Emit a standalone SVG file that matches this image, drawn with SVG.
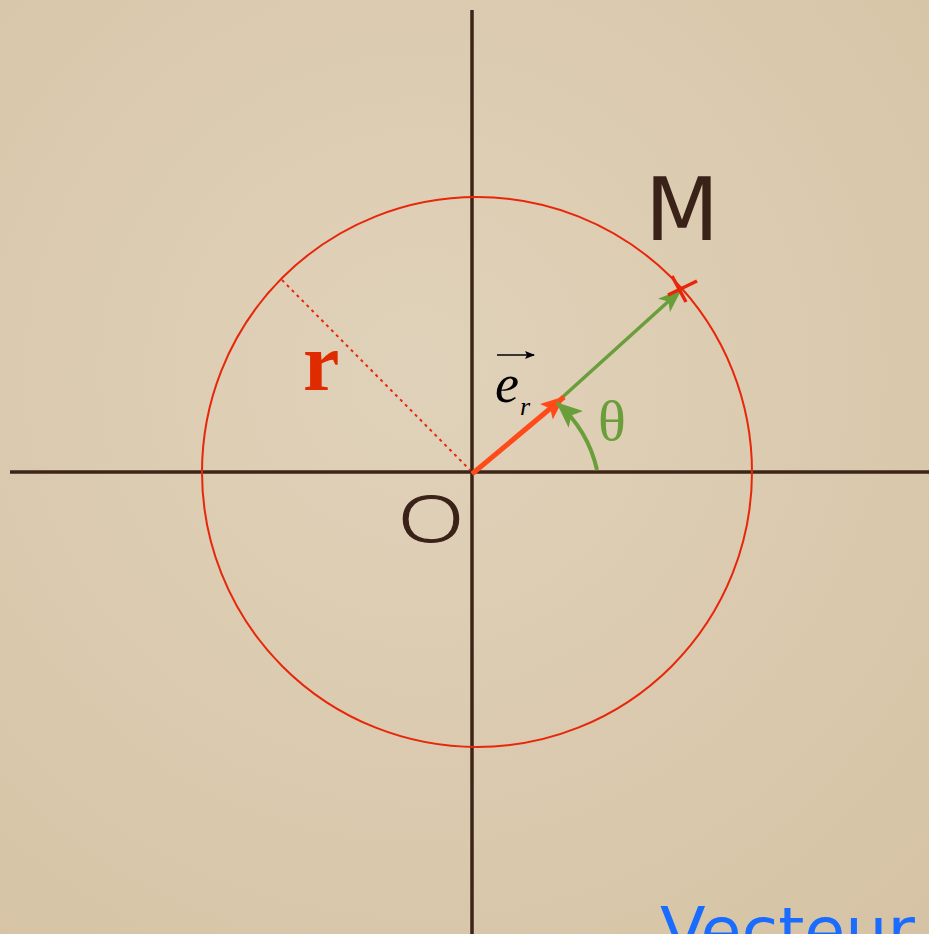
<svg xmlns="http://www.w3.org/2000/svg" width="929" height="934" viewBox="0 0 929 934">
<defs>
<radialGradient id="bg" cx="0.45" cy="0.4" r="0.8">
<stop offset="0" stop-color="#e0d2ba"/>
<stop offset="1" stop-color="#d6c3a5"/>
</radialGradient>
<marker id="ag" viewBox="0 0 24 18" refX="23" refY="9" markerWidth="24" markerHeight="18" orient="auto" markerUnits="userSpaceOnUse">
<path d="M0,0 L24,9 L0,18 L6,9 Z" fill="#6a9e3a"/>
</marker>
<marker id="ag2" viewBox="0 0 26 22" refX="25" refY="11" markerWidth="26" markerHeight="22" orient="auto" markerUnits="userSpaceOnUse">
<path d="M0,0 L26,11 L0,22 L6,11 Z" fill="#6a9e3a"/>
</marker>
<marker id="ar" viewBox="0 0 24 20" refX="23" refY="10" markerWidth="24" markerHeight="20" orient="auto" markerUnits="userSpaceOnUse">
<path d="M0,0 L24,10 L0,20 L5,10 Z" fill="#ff4a1a"/>
</marker>
<marker id="ak" viewBox="0 0 10 8" refX="9" refY="4" markerWidth="10" markerHeight="8" orient="auto" markerUnits="userSpaceOnUse">
<path d="M0,0 L10,4 L0,8 L2,4 Z" fill="#000"/>
</marker>
<style>
.axis{stroke:#3d2418;stroke-width:3.5;fill:none}
.hand{font-family:"DejaVu Sans",sans-serif;}
.serif{font-family:"Liberation Serif",serif;}
</style>
</defs>
<rect width="929" height="934" fill="url(#bg)"/>
<g id="axes">
<line class="axis" x1="10" y1="472" x2="929" y2="472"/>
<line class="axis" x1="472" y1="10" x2="472" y2="934"/>
</g>
<g id="circle">
<circle cx="477" cy="472" r="275" fill="none" stroke="#e8260a" stroke-width="2"/>
</g>
<g id="connectors">
<line x1="282" y1="280" x2="470" y2="470" stroke="#e8260a" stroke-width="2" stroke-dasharray="3,4"/>
<line x1="556" y1="403" x2="681" y2="290" stroke="#6a9e3a" stroke-width="3.5" marker-end="url(#ag)"/>
<line x1="472" y1="474" x2="564" y2="397" stroke="#ff4a1a" stroke-width="5" marker-end="url(#ar)"/>
<path d="M597,470 A125,125 0 0 0 557,403" fill="none" stroke="#6a9e3a" stroke-width="4" marker-end="url(#ag2)"/>
<line x1="497" y1="355" x2="534" y2="355" stroke="#000" stroke-width="1.5" marker-end="url(#ak)"/>
</g>
<g id="pointM">
<line x1="672" y1="276" x2="686" y2="302" stroke="#e8260a" stroke-width="3.5"/>
<line x1="668" y1="295" x2="697" y2="281" stroke="#e8260a" stroke-width="3.5"/>
<text class="hand" x="645" y="240" font-size="88" fill="#3a2219" textLength="74" lengthAdjust="spacingAndGlyphs">M</text>
</g>
<g id="labelO">
<text x="398" y="542" font-family="'Open Sans',sans-serif" font-weight="300" font-size="64" fill="#3a2219" stroke="#3a2219" stroke-width="1" textLength="66" lengthAdjust="spacingAndGlyphs">O</text>
</g>
<g id="labelR">
<text class="serif" x="303" y="390" font-size="82" font-weight="bold" fill="#e02a00">r</text>
</g>
<g id="labelEr">
<text class="serif" x="495" y="402" font-size="54" font-style="italic" fill="#000">e</text>
<text class="serif" x="520" y="415" font-size="26" font-style="italic" fill="#000">r</text>
</g>
<g id="labelTheta">
<text class="serif" x="598" y="440" font-size="58" fill="#6a9e3a">θ</text>
</g>
<g id="labelVecteur">
<text class="hand" x="660" y="953" font-size="64" fill="#1a6bff" textLength="255" lengthAdjust="spacingAndGlyphs">Vecteur</text>
</g>
</svg>
